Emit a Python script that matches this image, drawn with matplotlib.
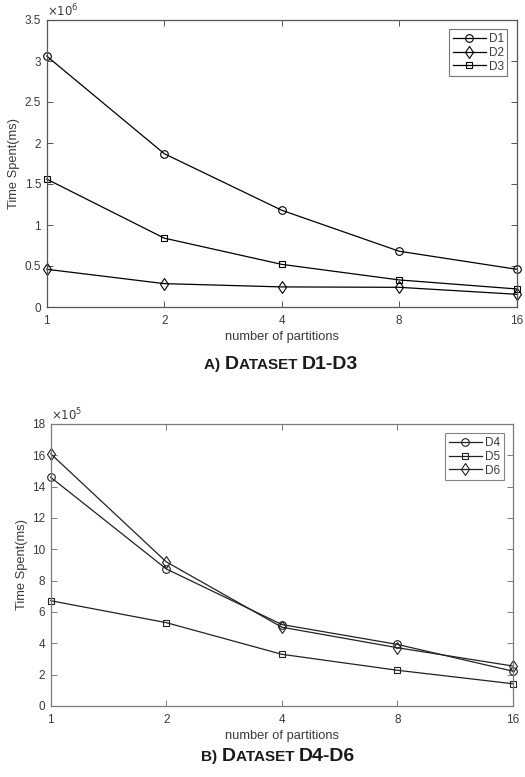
import matplotlib
matplotlib.use("Agg")
import matplotlib.pyplot as plt
from matplotlib.ticker import FixedLocator, FuncFormatter, NullLocator

plt.rcParams['font.family'] = ['Liberation Sans', 'DejaVu Sans']

partitions = [1, 2, 4, 8, 16]
part_labels = ['1', '2', '4', '8', '16']

# top chart (values in ms)
d1 = [3.06e6, 1.87e6, 1.18e6, 0.68e6, 0.46e6]
d2 = [0.46e6, 0.285e6, 0.245e6, 0.24e6, 0.155e6]
d3 = [1.56e6, 0.84e6, 0.52e6, 0.33e6, 0.22e6]

# bottom chart (values in ms)
d4 = [14.6e5, 8.75e5, 5.2e5, 3.93e5, 2.22e5]
d5 = [6.72e5, 5.32e5, 3.3e5, 2.28e5, 1.42e5]
d6 = [16.1e5, 9.2e5, 5.03e5, 3.72e5, 2.55e5]

top_yticks = [0, 0.5e6, 1e6, 1.5e6, 2e6, 2.5e6, 3e6, 3.5e6]
bot_yticks = [0, 2e5, 4e5, 6e5, 8e5, 10e5, 12e5, 14e5, 16e5, 18e5]

W, H = 525, 777
fig = plt.figure(figsize=(W / 100, H / 100), dpi=100)
fig.patch.set_facecolor('white')

tick_col = '#3a3a3a'


def style_axes(ax, yticks, scale, exp, axis_col):
    ax.set_xscale('log', base=2)
    ax.set_xlim(1, 16)
    ax.xaxis.set_major_locator(FixedLocator(partitions))
    ax.xaxis.set_minor_locator(NullLocator())
    ax.set_xticklabels(part_labels)
    ax.set_ylim(yticks[0], yticks[-1])
    ax.yaxis.set_major_locator(FixedLocator(yticks))
    ax.yaxis.set_major_formatter(FuncFormatter(lambda v, p: '%g' % (v / scale)))
    ax.tick_params(direction='in', length=4, width=0.7, colors=axis_col,
                   labelcolor=tick_col, labelsize=8.5, top=True, right=True)
    ax.tick_params(axis='x', pad=5.5)
    ax.tick_params(axis='y', pad=4)
    for s in ax.spines.values():
        s.set_color(axis_col)
        s.set_linewidth(0.9)
    ax.set_xlabel('number of partitions', fontsize=9.3, color=tick_col, labelpad=3)
    ax.set_ylabel('Time Spent(ms)', fontsize=9.3, color=tick_col, labelpad=3)
    ax.text(0.0, 1.004, r'$\times10^{%d}$' % exp, transform=ax.transAxes,
            fontsize=8.5, color=tick_col, ha='left', va='bottom')


ms = 5.5
lw = 0.9

ax1 = fig.add_axes([46.7 / W, 1 - 307 / H, 470 / W, 287 / H])
ax1.plot(partitions, d1, color='black', lw=lw, marker='o', ms=ms, mfc='none', mew=0.8, label='D1')
ax1.plot(partitions, d2, color='black', lw=lw, marker='d', ms=ms + 1, mfc='none', mew=0.8, label='D2')
ax1.plot(partitions, d3, color='black', lw=lw, marker='s', ms=ms - 0.8, mfc='none', mew=0.8, label='D3')
style_axes(ax1, top_yticks, 1e6, 6, '#555555')
for l in ax1.lines:
    l.set_clip_on(False)

ax2 = fig.add_axes([50.7 / W, 1 - 706 / H, 462.3 / W, 282 / H])
c2 = '#222222'
ax2.plot(partitions, d4, color=c2, lw=lw, marker='o', ms=ms, mfc='none', mew=0.8, label='D4')
ax2.plot(partitions, d5, color=c2, lw=lw, marker='s', ms=ms - 0.8, mfc='none', mew=0.8, label='D5')
ax2.plot(partitions, d6, color=c2, lw=lw, marker='d', ms=ms + 1, mfc='none', mew=0.8, label='D6')
style_axes(ax2, bot_yticks, 1e5, 5, '#7a7a7a')
for l in ax2.lines:
    l.set_clip_on(False)

for ax, ec in ((ax1, '#555555'), (ax2, '#666666')):
    leg = ax.legend(loc='upper right', fontsize=8.5, frameon=True, fancybox=False,
                    edgecolor=ec, handlelength=2.8, handletextpad=0.25,
                    borderpad=0.3, labelspacing=0.15, borderaxespad=0.8)
    leg.get_frame().set_linewidth(0.8)
    for t in leg.get_texts():
        t.set_color(tick_col)


# small-caps captions
def small_caps(fig, pieces, xc, y):
    r = fig.canvas.get_renderer()
    texts = []
    total = 0
    for s, size in pieces:
        t = fig.text(0, y, s, fontsize=size, fontweight='bold', color='#1a1a1a',
                     ha='left', va='baseline')
        w = t.get_window_extent(renderer=r).width
        texts.append((t, w))
        total += w
    x = xc * W - total / 2
    for t, w in texts:
        t.set_x(x / W)
        x += w


big, small = 14, 11
small_caps(fig, [('A) ', small), ('D', big), ('ATASET ', small), ('D1-D3', big)], 281 / W, 1 - 369 / H)
small_caps(fig, [('B) ', small), ('D', big), ('ATASET ', small), ('D4-D6', big)], 278 / W, 1 - 761 / H)

fig.savefig('out.png', dpi=100)
